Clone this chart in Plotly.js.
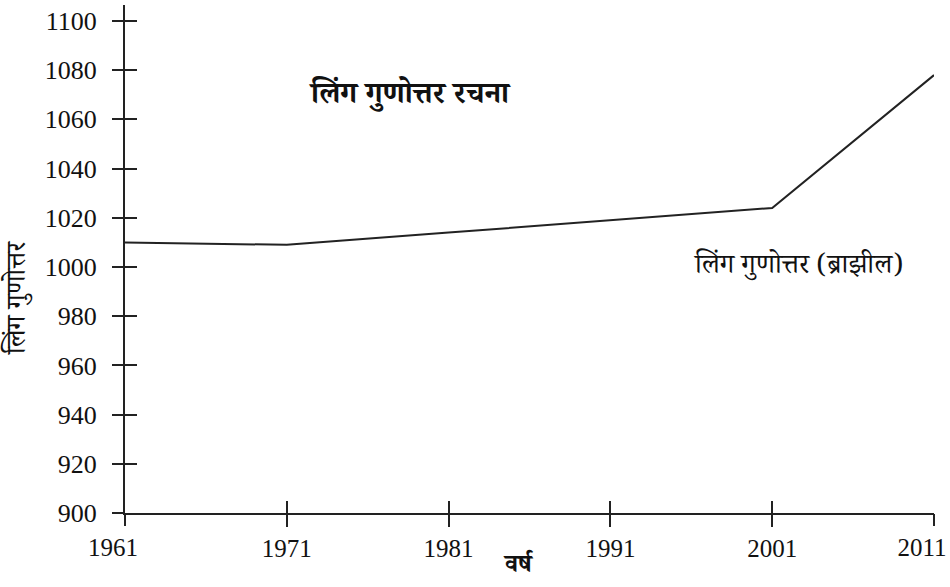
<!DOCTYPE html>
<html>
<head>
<meta charset="utf-8">
<script src="https://cdn.plot.ly/plotly-3.0.1.min.js"></script>
<style>html,body{margin:0;padding:0;background:#fff;}#chart{width:950px;height:587px;}</style>
</head>
<body>
<div id="chart"></div>
<script>
// Data
const years = [1961, 1971, 1981, 1991, 2001, 2011];
const sexRatio = [1010, 1009, 1014, 1019, 1024, 1078];
const yTicks = [900, 920, 940, 960, 980, 1000, 1020, 1040, 1060, 1080, 1100];
const xTickText = ['1961', '1971', '1981', '1991', '2001', '2011'];
const chartTitle = 'लिंग गुणोत्तर रचना';
const seriesLabel = 'लिंग गुणोत्तर (ब्राझील)';
const xTitle = 'वर्ष';
const yTitle = 'लिंग गुणोत्तर';

const serif = 'Liberation Serif, Times New Roman, DejaVu Serif, serif';
const deva = 'Noto Serif Devanagari, Noto Sans Devanagari, Lohit Devanagari, Noto Sans, sans-serif';
const ink = '#222';

// end labels (first and last year) sit a little left of their ticks in the reference
const last = years.length - 1;
const innerYears = years.slice(1, last);
const innerText = xTickText.slice(1, last);
const edgeYears = [years[0], years[last]];
const edgeText = [xTickText[0], xTickText[last]];

const traces = [
  {
    x: years, y: sexRatio, type: 'scatter', mode: 'lines',
    line: {color: ink, width: 2}, showlegend: false, hoverinfo: 'x+y'
  },
  { x: [], y: [], xaxis: 'x2', yaxis: 'y2', type: 'scatter', mode: 'lines', showlegend: false, hoverinfo: 'skip' },
  { x: [], y: [], xaxis: 'x3', yaxis: 'y', type: 'scatter', mode: 'lines', showlegend: false, hoverinfo: 'skip' }
];

const yRange = [900, 1106.5];
const xRange = [1961, 2011];
const tickFontX = {family: serif, size: 25, color: '#111'};

const layout = {
  width: 950, height: 587,
  margin: {l: 125, r: 16, t: 5, b: 74},
  paper_bgcolor: '#fff', plot_bgcolor: '#fff',
  showlegend: false,
  xaxis: {
    range: xRange, tickmode: 'array',
    tickvals: innerYears, ticktext: innerText,
    ticks: 'outside', ticklen: 12, tickwidth: 2, tickcolor: ink,
    showline: true, linecolor: ink, linewidth: 2,
    showgrid: false, zeroline: false,
    tickfont: tickFontX
  },
  xaxis3: {
    overlaying: 'x', anchor: 'y', range: xRange, tickmode: 'array',
    tickvals: edgeYears, ticktext: edgeText,
    ticks: 'outside', ticklen: 12, tickwidth: 2, tickcolor: ink,
    ticklabelshift: -12, ticklabeloverflow: 'allow',
    showline: false, showgrid: false, zeroline: false,
    tickfont: tickFontX
  },
  xaxis2: {
    overlaying: 'x', anchor: 'y', range: xRange, tickmode: 'array', tickvals: years,
    ticks: 'inside', ticklen: 12, tickwidth: 2, tickcolor: ink,
    showticklabels: false, showline: false, showgrid: false, zeroline: false
  },
  yaxis: {
    range: yRange, tickmode: 'array', tickvals: yTicks,
    ticks: 'outside', ticklen: 11, tickwidth: 2, tickcolor: ink,
    showline: true, linecolor: ink, linewidth: 2,
    showgrid: false, zeroline: false,
    ticklabelstandoff: 10,
    tickfont: {family: serif, size: 26, color: '#111'}
  },
  yaxis2: {
    overlaying: 'y', anchor: 'x', side: 'left', range: yRange, tickmode: 'array', tickvals: yTicks,
    ticks: 'inside', ticklen: 12, tickwidth: 2, tickcolor: ink,
    showticklabels: false, showline: false, showgrid: false, zeroline: false
  },
  annotations: [
    {
      text: '<b>' + chartTitle + '</b>', x: 1978.6, y: 1068.5, xref: 'x', yref: 'y',
      showarrow: false, font: {family: deva, size: 30, color: '#111'}
    },
    {
      text: seriesLabel, x: 2002.6, y: 999.5, xref: 'x', yref: 'y',
      showarrow: false, font: {family: deva, size: 27.5, color: '#111'}
    },
    {
      text: yTitle, xref: 'paper', yref: 'paper', xanchor: 'center', yanchor: 'middle',
      showarrow: false, textangle: -90, font: {family: deva, size: 27, color: '#111'}
    },
    {
      text: '<b>' + xTitle + '</b>', xref: 'paper', yref: 'paper', xanchor: 'center', yanchor: 'middle',
      showarrow: false, borderpad: 0, font: {family: deva, size: 25, color: '#111'}
    }
  ]
};
// axis-title annotations placed by pixel position converted to paper coordinates
const plotW = 950 - 125 - 16, plotH = 587 - 74 - 5;
layout.annotations[2].x = (21 - 125) / plotW;
layout.annotations[2].y = (587 - 74 - 298) / plotH;
layout.annotations[3].x = (518 - 125) / plotW;
layout.annotations[3].y = (587 - 74 - 568) / plotH;

Plotly.newPlot('chart', traces, layout, {displayModeBar: false, staticPlot: true});
</script>
</body>
</html>
